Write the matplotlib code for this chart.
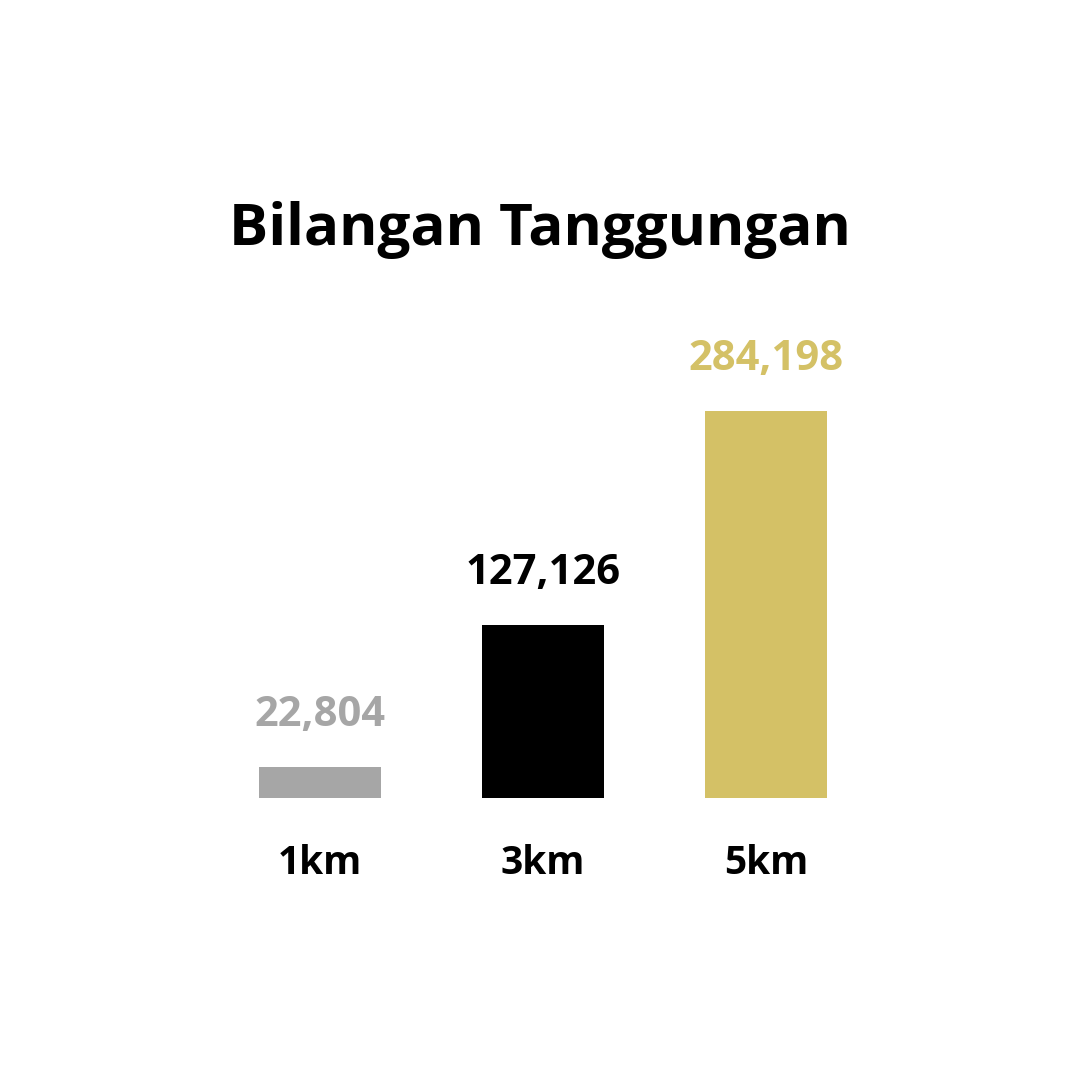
import matplotlib.pyplot as plt

# data
categories = ["1km", "3km", "5km"]
values = [22804, 127126, 284198]
labels = ["22,804", "127,126", "284,198"]
colors = ["#A6A6A6", "#000000", "#D4C166"]

plt.rcParams['font.family'] = ['Open Sans', 'DejaVu Sans']

fig = plt.figure(figsize=(10.8, 10.8), dpi=100)
fig.patch.set_facecolor("white")

# axes placed so baseline sits at y=798px and tallest bar top at y=411px
ax = fig.add_axes([208 / 1080, (1080 - 798) / 1080, 670 / 1080, 387 / 1080])
x = range(len(categories))
ax.bar(x, values, width=0.546, color=colors)
ax.set_xlim(-0.5, 2.5)
ax.set_ylim(0, max(values))
ax.axis("off")

for i, (v, lab, c) in enumerate(zip(values, labels, colors)):
    ax.annotate(lab, (i, v), xytext=(0, 22), textcoords="offset points",
                ha="center", va="bottom", fontsize=30, fontweight="bold", color=c)
    ax.annotate(categories[i], (i, 0), xytext=(0, -33), textcoords="offset points",
                ha="center", va="top", fontsize=28, fontweight="bold", color="black")

fig.text(0.5, 1 - 230 / 1080, "Bilangan Tanggungan", ha="center", va="center",
         fontsize=42, fontweight="bold", color="black")

fig.savefig("out.png", dpi=100, facecolor="white")
